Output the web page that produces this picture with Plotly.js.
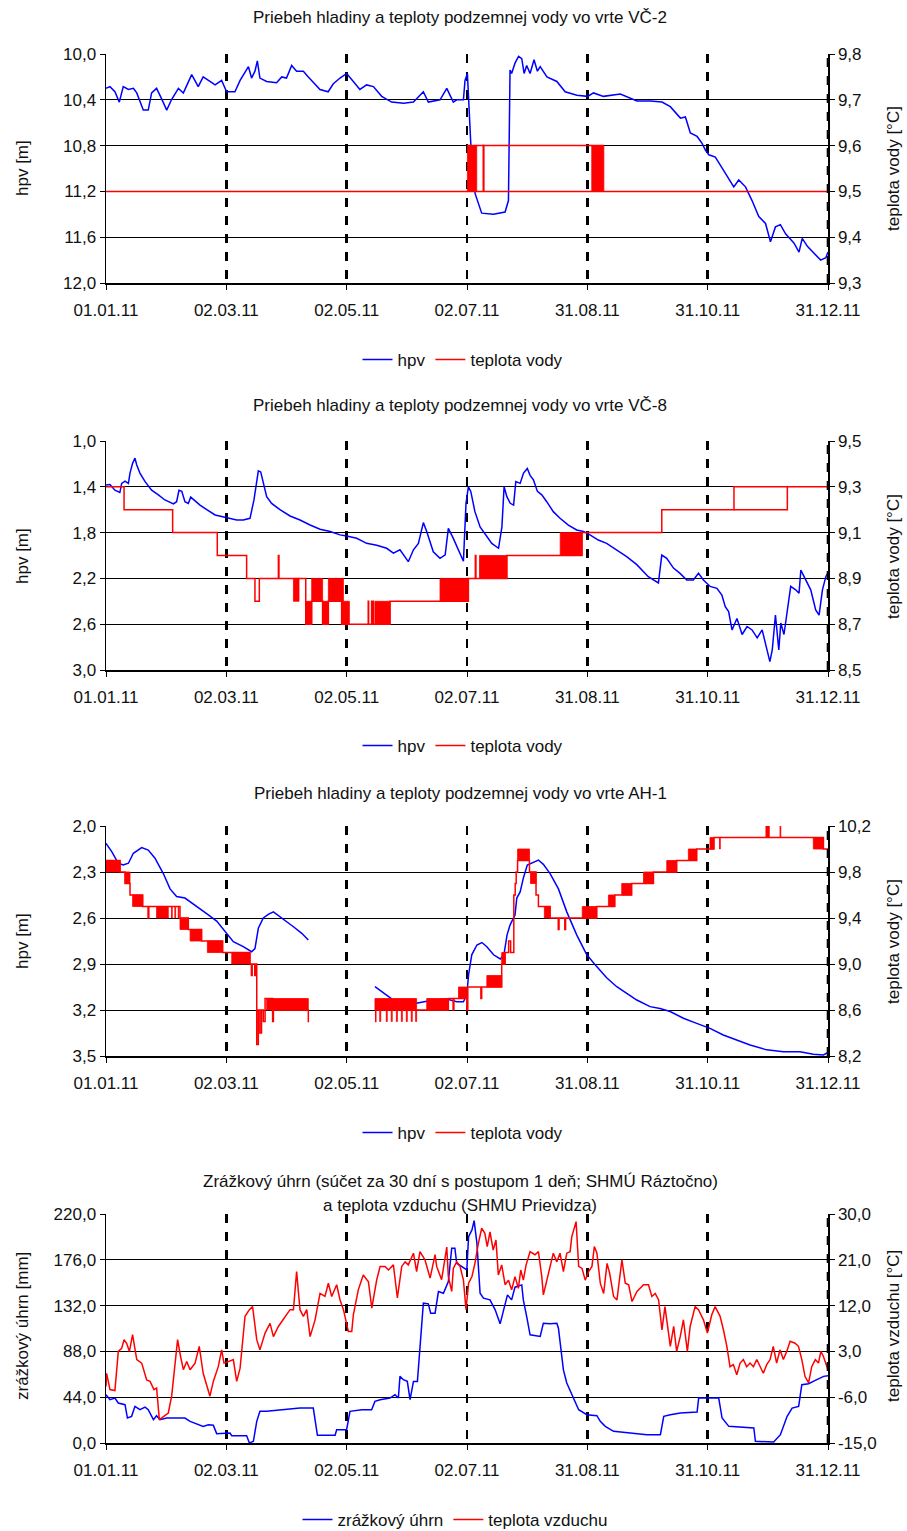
<!DOCTYPE html>
<html><head><meta charset="utf-8">
<script src="https://cdn.plot.ly/plotly-3.0.1.min.js"></script>
<style>html,body{margin:0;padding:0;background:#fff}</style>
</head><body><div id="chart" style="width:907px;height:1531px"></div>
<script>
// ---------- tick labels ----------
const dateLabels = ['01.01.11','02.03.11','02.05.11','02.07.11','31.08.11','31.10.11','31.12.11'];
const lastDay = 364;
const vc2LeftTicks = [10.0,10.4,10.8,11.2,11.6,12.0];
const vc2RightTicks = [9.3,9.4,9.5,9.6,9.7,9.8];
const vc8LeftTicks = [1.0,1.4,1.8,2.2,2.6,3.0];
const vc8RightTicks = [8.5,8.7,8.9,9.1,9.3,9.5];
const ah1LeftTicks = [2.0,2.3,2.6,2.9,3.2,3.5];
const ah1RightTicks = [8.2,8.6,9.0,9.4,9.8,10.2];
const rainTicks = [0,44,88,132,176,220];
const airTicks = [-15,-6,3,12,21,30];

// ---------- VČ-2 ----------
const vc2Hpv = [[0,10.30],[2,10.285],[4.5,10.33],[6.7,10.42],[8.7,10.285],[11.3,10.31],[13.8,10.30],[15.5,10.34],[18.8,10.49],[21.3,10.49],[23,10.34],[25.5,10.30],[28,10.39],[30.6,10.49],[33,10.40],[36.5,10.30],[39,10.34],[43.2,10.18],[46.5,10.285],[49,10.20],[52.4,10.24],[55,10.27],[58.3,10.23],[60.8,10.33],[65,10.33],[67.6,10.23],[71.8,10.11],[73.4,10.21],[75.1,10.15],[76.3,10.06],[77.6,10.21],[81,10.24],[86,10.25],[88.6,10.20],[91,10.21],[93.6,10.10],[96.1,10.15],[99.5,10.15],[102,10.20],[105.4,10.26],[107.9,10.31],[112,10.33],[114.6,10.26],[118,10.21],[121.3,10.17],[124.7,10.24],[128,10.31],[131.4,10.27],[134.8,10.285],[139,10.37],[144,10.42],[150,10.43],[155,10.42],[160,10.33],[162.5,10.42],[168.4,10.40],[171.8,10.30],[175.1,10.42],[176.8,10.40],[180.2,10.40],[181,10.23],[182.2,10.17],[182.8,10.37],[183.9,10.78],[186.1,11.22],[187.7,11.30],[189.4,11.39],[195.3,11.40],[201.2,11.38],[202.9,11.28],[203.7,10.14],[204.5,10.17],[206.2,10.08],[208,10.02],[209.6,10.04],[210.8,10.17],[212.1,10.10],[213.8,10.17],[215.8,10.05],[217.5,10.15],[218.9,10.11],[222.3,10.20],[227.3,10.24],[231.5,10.33],[237.4,10.36],[242.8,10.37],[245.8,10.34],[250.8,10.37],[259.3,10.35],[267.7,10.41],[274.5,10.41],[280.3,10.42],[284.5,10.46],[289.6,10.56],[292.1,10.55],[294.6,10.69],[298,10.72],[300.5,10.78],[302.2,10.84],[303.9,10.88],[307.2,10.90],[309.7,10.97],[313.1,11.06],[316.5,11.16],[319,11.10],[322.4,11.16],[325.7,11.28],[329.1,11.42],[332.5,11.48],[335,11.64],[337.5,11.51],[340,11.49],[342.6,11.57],[346.8,11.65],[349.4,11.73],[351,11.61],[353.6,11.68],[357,11.74],[360.3,11.80],[362.9,11.78],[364,11.73]];
const vc2Temp = [[0,9.5],[190.2,9.6],[190.5,9.5],[364,9.5]];
const vc2TempExtra = [[182.2,9.6],[251,9.6]];
const vc2TempBlocks = [[182.2,186.9,9.5,9.6],[244.9,251,9.5,9.6]];

// ---------- VČ-8 ----------
const vc8Hpv = [[0,1.384],[2,1.38],[4.5,1.43],[7,1.45],[7.9,1.37],[9.6,1.35],[11.3,1.37],[12.1,1.28],[13.4,1.195],[14.6,1.15],[15.5,1.21],[17.1,1.28],[19.7,1.355],[23,1.43],[26.4,1.47],[29.7,1.515],[34,1.55],[35.6,1.53],[36.8,1.43],[38.2,1.44],[39.8,1.53],[41.5,1.545],[42.7,1.49],[44.4,1.515],[47.4,1.56],[50.8,1.60],[55,1.646],[58.3,1.66],[62.5,1.675],[65.9,1.69],[69.2,1.69],[72.6,1.675],[74.6,1.515],[76,1.37],[76.8,1.26],[78,1.27],[79.3,1.355],[81,1.486],[83.5,1.545],[87.7,1.60],[92.8,1.655],[97.8,1.69],[102.9,1.734],[107.9,1.77],[113,1.79],[118,1.82],[121.3,1.83],[126.4,1.85],[131.4,1.894],[136.5,1.91],[141.5,1.937],[144.9,1.98],[148.2,1.95],[152.4,2.054],[155,1.95],[157.5,1.894],[160,1.713],[161.7,1.79],[165,1.967],[168.4,2.025],[171,1.995],[172.6,1.763],[175.1,1.85],[178.5,1.98],[180.2,2.05],[181.5,1.544],[182.7,1.40],[183.9,1.44],[186,1.617],[188.6,1.75],[192,1.836],[194.5,1.894],[197.9,1.937],[199.6,1.75],[200.7,1.40],[202.1,1.486],[203.8,1.544],[205.5,1.56],[206.6,1.355],[208.8,1.37],[210.5,1.28],[212.4,1.24],[213.8,1.30],[215.5,1.34],[217.5,1.44],[219.7,1.47],[222.2,1.53],[225.5,1.617],[228.9,1.675],[233.1,1.734],[237.3,1.777],[240.7,1.79],[244,1.82],[248.2,1.865],[252.4,1.894],[257.5,1.95],[262.5,2.01],[267.6,2.08],[273.4,2.185],[278.5,2.24],[280.2,1.996],[282.7,2.025],[286.1,2.11],[289.4,2.156],[292.8,2.214],[296.1,2.214],[298.7,2.156],[301.2,2.214],[304.6,2.27],[308,2.287],[310.5,2.345],[312.2,2.447],[313.9,2.49],[315.6,2.65],[318.1,2.55],[320.7,2.69],[323.2,2.62],[325.7,2.65],[328.3,2.72],[330.8,2.65],[333.3,2.825],[334.7,2.927],[335.9,2.825],[337.5,2.52],[339.2,2.825],[340.2,2.59],[341.8,2.69],[343.5,2.49],[345.2,2.27],[347.7,2.30],[349.4,2.33],[350.3,2.127],[352.8,2.214],[355.3,2.30],[357.8,2.476],[359.5,2.52],[361.2,2.30],[362.9,2.185],[364,2.15]];
const vc8Temp = [[0,9.3],[9.1,9.2],[33.6,9.1],[56.1,9.0],[70.9,8.9],[75.1,8.8],[77.3,8.9],[86.9,9.0],[87.2,8.9],[100.7,8.7],[103.7,8.8],[109.2,8.7],[112.1,8.8],[118.8,8.7],[132.2,8.8],[132.4,8.7],[133.9,8.8],[134.1,8.7],[134.7,8.8],[134.9,8.7],[143.2,8.8],[182.7,8.9],[186.2,9.0],[186.5,8.9],[202.1,9.0],[240,9.1],[280.2,9.2],[316.6,9.3],[364,9.3]];
const vc8TempExtra = [[316.6,9.2],[343.5,9.2],[343.5,9.3]];
const vc8TempBlocks = [[94.5,97.3,8.8,8.9],[100.7,103.7,8.7,8.8],[103.7,109.2,8.8,8.9],[109.2,112.1,8.7,8.8],[112.1,119.7,8.8,8.9],[118.8,122.7,8.7,8.8],[135.6,143.2,8.7,8.8],[168.4,182.7,8.8,8.9],[188.3,202.1,8.9,9.0],[229,240,9.0,9.1]];

// ---------- AH-1 ----------
const ah1Hpv = [[0,2.113],[2.9,2.167],[6.2,2.243],[8.7,2.254],[11.3,2.243],[13.8,2.178],[18,2.141],[21.3,2.157],[24.7,2.21],[28.9,2.31],[32.3,2.41],[35.6,2.46],[39.8,2.47],[43.2,2.50],[47.4,2.54],[51.6,2.58],[55.8,2.62],[60.8,2.70],[64.2,2.754],[69.2,2.787],[73.4,2.82],[75.1,2.80],[76.8,2.667],[79.3,2.60],[81.8,2.576],[84.4,2.56],[87.7,2.59],[91.1,2.624],[94.5,2.657],[98.7,2.70],[102,2.743],[118,null],[135.6,3.048],[139.8,3.09],[144.9,3.135],[148.2,3.167],[152.4,3.178],[155.8,3.157],[160,3.146],[165,3.135],[171.8,3.128],[176.8,3.146],[180.2,3.146],[181.9,3.10],[182.8,2.97],[184.4,2.84],[187,2.776],[189.5,2.76],[192,2.787],[195.4,2.84],[198.8,2.867],[200.6,2.84],[202.2,2.71],[203.7,2.646],[206.2,2.58],[207.1,2.47],[208.8,2.43],[210.4,2.34],[212.4,2.254],[214.6,2.243],[216.3,2.233],[218,2.222],[220.5,2.25],[223.9,2.31],[228.1,2.41],[232.3,2.56],[237.3,2.71],[242.4,2.84],[247.4,2.917],[252.4,2.99],[257.5,3.048],[262.5,3.09],[267.6,3.135],[274.3,3.178],[279.3,3.19],[284.4,3.21],[291.1,3.254],[297.8,3.287],[304.5,3.32],[311.2,3.363],[318,3.396],[324.7,3.428],[333.1,3.46],[341.5,3.472],[349.9,3.472],[356.6,3.489],[361.7,3.493],[364,3.476]];
const ah1Temp = [[0,9.9],[7.1,9.8],[9.6,9.7],[12.1,9.6],[18.5,9.5],[21.2,9.4],[21.6,9.5],[37.3,9.4],[41.5,9.3],[48.2,9.2],[58.8,9.1],[72.6,9.0],[73.3,8.9],[73.7,9.0],[75.0,8.9],[75.4,9.0],[76.0,8.3],[76.8,8.6],[77.6,8.4],[78.4,8.6],[79.3,8.5],[80.2,8.7],[84.0,8.5],[84.4,8.6],[102,8.5],[102.4,8.5],[118,null],[135.6,8.5],[136,8.6],[172.6,8.7],[175,8.6],[175.4,8.7],[181.9,8.6],[182.4,8.8],[189,8.7],[189.4,8.8],[199.5,9.0],[201.2,9.1],[203,9.2],[204,9.1],[205.6,9.6],[206.3,9.7],[206.8,9.8],[207.5,9.9],[213.5,9.8],[216.8,9.6],[218,9.5],[223.9,9.4],[228,9.3],[228.4,9.4],[231.3,9.3],[231.7,9.4],[247.4,9.5],[256.5,9.6],[265,9.7],[276,9.8],[287.7,9.9],[297.8,10.0],[306.5,10.1],[361.7,10.0],[364,10.0]];
const ah1TempBlocks = [[0,7.1,9.8,9.9],[9.6,12.1,9.7,9.8],[13.4,18.5,9.5,9.6],[25.5,31.4,9.4,9.5],[33.0,33.4,9.4,9.5],[34.7,35.1,9.4,9.5],[36.4,36.8,9.4,9.5],[37.3,41.5,9.3,9.4],[42.4,48.2,9.2,9.3],[51.1,58.8,9.1,9.2],[63.4,72.6,9.0,9.1],[81,102,8.6,8.7],
  [135.6,156.6,8.6,8.7],[138.0,138.5,8.5,8.6],[141.3,141.8,8.5,8.6],[143.8,144.3,8.5,8.6],[146.4,146.9,8.5,8.6],[148.9,149.4,8.5,8.6],[151.4,151.9,8.5,8.6],[153.9,154.4,8.5,8.6],[156.1,156.6,8.5,8.6],[161.7,172.6,8.6,8.7],[177.7,181.9,8.7,8.8],[192,199.5,8.8,8.9],[199.5,201.2,9.0,9.1],[207.5,213.5,9.9,10.0],[214,216.8,9.7,9.8],[221,223.9,9.4,9.5],[240.1,247.4,9.4,9.5],[253.3,256.5,9.5,9.6],[260,265,9.6,9.7],[271,276,9.7,9.8],[282.7,287.7,9.8,9.9],[293.6,297.8,9.9,10.0],[304.5,306.5,10.0,10.1],[309.3,309.7,10.0,10.1],[332.7,334.4,10.1,10.2],[339.8,340.2,10.1,10.2],[356.6,361.7,10.0,10.1]];

// ---------- precipitation & air temperature ----------
const rain = [[0,46.4],[2,41.6],[4.5,43.2],[6.2,38.4],[9.6,36.8],[10.8,24],[12.9,25.6],[14.6,35.2],[17.1,32],[19.7,34.5],[21.3,32],[23.9,22.4],[25.5,26.2],[27.2,22.4],[30.6,24],[35.6,24],[39.8,24],[42.4,20.8],[45.7,18.5],[49,16],[51.6,17.6],[54.1,17],[55.8,9],[60,9.6],[62.5,9.6],[63.4,7],[70.9,7],[72.3,0],[74.3,1.6],[76,20.8],[77.6,30.4],[81,30.4],[86,31.3],[89.4,32],[94.5,32.6],[97.8,33.6],[104.5,33.6],[106.6,7.4],[115.5,7.4],[116.3,12.8],[121.3,12.8],[123,30.4],[128.9,32],[133.9,32],[135.6,40],[138.2,41.6],[143.2,43.2],[145.7,46.4],[147.4,43.2],[148.2,64],[149.9,60.8],[151.9,59.2],[153.3,41.6],[155,59.2],[157,59.2],[158.3,92.7],[160,134.3],[162.5,133.7],[163.7,124.7],[165.9,124.7],[167.6,145.5],[170.1,143.9],[172.6,155.1],[174.3,187.1],[175.9,187.1],[176.8,172.7],[179.3,169.5],[181.9,166.3],[182.8,198.3],[184.5,204.7],[185.6,213.6],[187,191.9],[188.6,143.9],[190.3,139.1],[193.6,137.5],[196.2,127.9],[198.7,114.5],[200.3,126.3],[202.4,142.3],[204.5,137.5],[206.2,149.7],[209.6,151.9],[210.4,137.5],[212.1,121.5],[213.8,103.9],[218.9,102.3],[220.5,115.1],[223.9,114.5],[227.3,115.1],[228.1,110.3],[230.6,70.3],[232.3,57.6],[235.8,41.6],[238.3,32],[242.4,27.2],[247.5,26.2],[249.2,20.8],[251.7,16],[255.9,11.2],[264.3,9.6],[272.7,8],[279.5,8],[281.2,25.6],[284.5,27.2],[289.6,28.8],[298,29.7],[298.8,43.2],[308.9,43.2],[310.6,24],[314,16],[319.8,15.3],[326.6,14.4],[327.4,1.6],[336.6,1],[340,8],[343.4,25.6],[345.9,33.6],[349.2,35.2],[350.8,56],[354.2,56.9],[357.6,60.1],[361.8,64],[364,64.6]];
const airTemp = [[0,-3.9],[0.3,-1.3],[2,-4.5],[4.5,-4.7],[6.2,3.0],[7.9,3.6],[9.1,5.3],[10.4,4.6],[11.8,3.0],[13.4,6.3],[15.5,1.4],[18,0.7],[20.5,-2.6],[22.2,-2.9],[24.2,-4.5],[25.5,-4.2],[26.9,-10.4],[28.9,-9.8],[31.4,-9.1],[33.1,-5.8],[34.8,1.4],[36.1,5.3],[37.6,2.0],[39,-0.6],[40.7,1.0],[42.4,-0.6],[44.9,0.7],[47,4.0],[49,-1.3],[52.4,-5.8],[54.1,-2.9],[56.6,0.0],[58.3,3.3],[59.5,0.7],[61.7,1.0],[64.2,1.4],[65.9,-2.9],[67.6,-0.3],[70.1,9.9],[72.3,11.2],[73.9,11.8],[76,5.3],[77.6,3.3],[80.2,6.6],[82.7,8.5],[84.4,5.9],[86.9,7.9],[89.4,9.2],[92.8,11.2],[94.5,11.2],[96.1,18.7],[97.8,11.2],[99.5,9.9],[101.2,11.2],[102.9,5.9],[105.4,9.2],[107.9,14.4],[110.4,13.8],[112.1,16.4],[113.8,13.8],[116.3,16.1],[118,13.1],[119.7,11.2],[122.2,6.9],[123.9,6.9],[124.7,10.2],[127.2,15.1],[129.7,18.0],[132.3,16.7],[134,11.5],[136.5,17.1],[138.2,19.7],[140.7,19.7],[142.4,19.0],[144.9,20.0],[146.9,13.5],[149.1,19.7],[150.8,20.6],[152.4,20.0],[155,22.3],[156.6,18.7],[158.3,22.6],[160.8,21.0],[163.4,17.4],[165.9,22.0],[166.7,19.7],[169.2,17.1],[171.8,23.5],[172.6,17.7],[174.3,14.8],[175.1,19.3],[176.8,20.6],[178.5,19.7],[180.2,17.0],[181.5,11.2],[182.8,16.4],[184.5,17.7],[186,20.3],[187.7,24.2],[189.4,27.2],[191,26.2],[192.2,23.6],[193.6,26.5],[195.2,22.9],[196.6,24.9],[197.8,18.0],[199.5,20.0],[201.2,16.1],[202.9,17.0],[204.5,15.1],[206.2,17.7],[207.9,15.4],[209.1,19.0],[210.4,17.0],[211.8,20.0],[213.8,22.6],[216.3,22.0],[218,22.6],[219.7,17.7],[220.5,14.1],[222.2,17.0],[223.9,19.7],[225.5,22.3],[227.3,20.6],[228.9,22.3],[230.6,18.7],[232.3,22.3],[234,22.6],[234.8,25.5],[237,28.5],[238.3,19.7],[240,19.3],[241.6,17.0],[243.3,18.7],[245,19.7],[246.2,23.6],[247.5,22.3],[249.2,16.4],[250.9,14.4],[252.6,20.3],[253.9,18.4],[255.9,13.8],[257.6,13.1],[260.1,21.0],[261.8,16.4],[263.5,16.1],[265.2,12.8],[267.7,14.8],[271,16.1],[273.5,16.1],[275.2,13.8],[276.9,14.4],[278.6,13.1],[280.3,7.2],[281.8,11.8],[284.5,4.0],[286.2,7.9],[287.7,3.0],[289.5,5.9],[291.1,9.2],[293.1,3.0],[294.5,7.9],[297,11.8],[298.7,11.2],[301.2,9.2],[303.2,6.6],[305.4,10.2],[307.1,11.8],[309.6,9.9],[311.3,7.2],[313,4.0],[314.6,0.0],[316.3,0.4],[318,-1.6],[319.7,0.7],[321.3,1.4],[323,0.0],[324.7,0.7],[326.4,0.0],[328.1,1.4],[329.7,0.0],[331.4,-1.3],[333.1,0.4],[334.8,1.4],[336.4,4.0],[338.1,0.7],[339.8,3.3],[341.5,1.4],[343.2,3.0],[344.9,5.0],[347.4,4.6],[349.1,4.0],[350.8,1.4],[352.4,-1.9],[354.2,-3.2],[355.8,0.0],[357.6,1.4],[359.2,0.7],[360.4,3.0],[361.7,2.0],[364,-0.6]];

// ---------- helpers ----------
const BLUE = '#0000ff', RED = '#ff0000';
const FONT = 'Liberation Sans, Arial, sans-serif';
const px = p => p.map(d => d[0]);
const py = p => p.map(d => d[1]);
function rectPaths(blocks){
  const x = [], y = [];
  blocks.forEach(b => { x.push(b[0],b[1],b[1],b[0],b[0],null); y.push(b[2],b[2],b[3],b[3],b[2],null); });
  return {x, y};
}
const fmt = v => v.toFixed(1).replace('.', ',');
const dateTickVals = dateLabels.map((_, i) => i * lastDay / (dateLabels.length - 1));

function lineTrace(pairs, xa, ya, color, name, legend, shape, show){
  return {x: px(pairs), y: py(pairs), xaxis: xa, yaxis: ya, type: 'scatter', mode: 'lines',
    line: {color, width: color === BLUE ? 1.5 : 1.5, shape: shape || 'linear'},
    name, legend, showlegend: !!show, hoverinfo: 'skip', connectgaps: false};
}
function blockTrace(blocks, xa, ya){
  const r = rectPaths(blocks);
  return {x: r.x, y: r.y, xaxis: xa, yaxis: ya, type: 'scatter', mode: 'lines', fill: 'toself',
    fillcolor: RED, line: {color: RED, width: 0.8}, showlegend: false, hoverinfo: 'skip'};
}

const traces = [
  lineTrace(vc2Hpv, 'x', 'y', BLUE, 'hpv', 'legend', 'linear', true),
  lineTrace(vc2Temp, 'x', 'y2', RED, 'teplota vody', 'legend', 'hv', true),
  lineTrace(vc2TempExtra, 'x', 'y2', RED, '', 'legend', 'hv', false),
  blockTrace(vc2TempBlocks, 'x', 'y2'),

  lineTrace(vc8Hpv, 'x2', 'y3', BLUE, 'hpv', 'legend2', 'linear', true),
  lineTrace(vc8Temp, 'x2', 'y4', RED, 'teplota vody', 'legend2', 'hv', true),
  lineTrace(vc8TempExtra, 'x2', 'y4', RED, '', 'legend2', 'linear', false),
  blockTrace(vc8TempBlocks, 'x2', 'y4'),

  lineTrace(ah1Hpv, 'x3', 'y5', BLUE, 'hpv', 'legend3', 'linear', true),
  lineTrace(ah1Temp, 'x3', 'y6', RED, 'teplota vody', 'legend3', 'hv', true),
  blockTrace(ah1TempBlocks, 'x3', 'y6'),

  lineTrace(rain, 'x4', 'y7', BLUE, 'zrážkový úhrn', 'legend4', 'linear', true),
  lineTrace(airTemp, 'x4', 'y8', RED, 'teplota vzduchu', 'legend4', 'linear', true)
];

// ---------- layout ----------
const H = 1531, L = 106, R = 79, PW = 907 - L - R;
const yPx = v => (H - v) / H;           // pixel row -> paper fraction
const xPx = v => (v - L) / PW;          // pixel column -> paper fraction
const tickFont = {family: FONT, size: 17, color: '#111'};

function xAxis(anchor){
  return {anchor, range: [0, lastDay], tickmode: 'array', tickvals: dateTickVals, ticktext: dateLabels,
    showgrid: true, gridcolor: '#000', griddash: 'dash', gridwidth: 2.6,
    showline: true, linecolor: '#000', linewidth: 1.5, ticks: 'outside', ticklen: 5, tickcolor: '#000',
    tickfont: tickFont, zeroline: false, ticklabelstandoff: 6, fixedrange: true};
}
function yLeft(domain, ticks, reversed, anchor){
  const lo = ticks[0], hi = ticks[ticks.length - 1];
  return {domain, anchor, range: reversed ? [hi, lo] : [lo, hi], tickmode: 'array', tickvals: ticks,
    ticktext: ticks.map(fmt), showgrid: true, gridcolor: '#000', gridwidth: 1,
    showline: true, linecolor: '#000', linewidth: 1.5, ticks: 'outside', ticklen: 5, tickcolor: '#000',
    tickfont: tickFont, zeroline: false, fixedrange: true};
}
function yRight(over, ticks, anchor){
  return {overlaying: over, side: 'right', anchor, range: [ticks[0], ticks[ticks.length - 1]],
    tickmode: 'array', tickvals: ticks, ticktext: ticks.map(fmt), showgrid: false,
    showline: true, linecolor: '#000', linewidth: 1.5, ticks: 'outside', ticklen: 5, tickcolor: '#000',
    tickfont: tickFont, zeroline: false, fixedrange: true};
}

const d1 = [yPx(283), yPx(54)], d2 = [yPx(670), yPx(441)], d3 = [yPx(1056), yPx(826)], d4 = [yPx(1443), yPx(1214)];
const txt = {family: FONT, size: 17, color: '#111'};
function ann(text, x, y, angle){
  return {text, xref: 'paper', yref: 'paper', x: xPx(x), y: yPx(y), showarrow: false,
    xanchor: 'center', yanchor: 'middle', textangle: angle || 0, font: txt};
}
function leg(cx, cy){
  return {orientation: 'h', x: xPx(cx), y: yPx(cy), xanchor: 'center', yanchor: 'middle',
    font: txt, bgcolor: 'rgba(0,0,0,0)', itemwidth: 30, tracegroupgap: 0};
}
// dashed right border of every panel (the last date gridline)
function rightEdge(xa, ya){
  return {type: 'line', xref: xa, yref: ya + ' domain', x0: lastDay, x1: lastDay, y0: 0, y1: 1,
    line: {color: '#000', width: 2.6, dash: 'dash'}, layer: 'above'};
}

const layout = {
  width: 907, height: H, paper_bgcolor: '#fff', plot_bgcolor: '#fff',
  margin: {l: L, r: R, t: 0, b: 0, autoexpand: false},
  separators: ', ', font: {family: FONT, color: '#111'},
  xaxis: xAxis('y'), yaxis: yLeft(d1, vc2LeftTicks, true, 'x'), yaxis2: yRight('y', vc2RightTicks, 'x'),
  xaxis2: xAxis('y3'), yaxis3: yLeft(d2, vc8LeftTicks, true, 'x2'), yaxis4: yRight('y3', vc8RightTicks, 'x2'),
  xaxis3: xAxis('y5'), yaxis5: yLeft(d3, ah1LeftTicks, true, 'x3'), yaxis6: yRight('y5', ah1RightTicks, 'x3'),
  xaxis4: xAxis('y7'), yaxis7: yLeft(d4, rainTicks, false, 'x4'), yaxis8: yRight('y7', airTicks, 'x4'),
  legend: leg(463, 360), legend2: leg(463, 746), legend3: leg(463, 1133), legend4: leg(455, 1520),
  shapes: [rightEdge('x', 'y'), rightEdge('x2', 'y3'), rightEdge('x3', 'y5'), rightEdge('x4', 'y7')],
  annotations: [
    ann('Priebeh hladiny a teploty podzemnej vody vo vrte VČ-2', 460, 18),
    ann('Priebeh hladiny a teploty podzemnej vody vo vrte VČ-8', 460, 405),
    ann('Priebeh hladiny a teploty podzemnej vody vo vrte AH-1', 460, 793),
    ann('Zrážkový úhrn (súčet za 30 dní s postupom 1 deň; SHMÚ Ráztočno)', 460, 1181),
    ann('a teplota vzduchu (SHMU Prievidza)', 460, 1205),
    ann('hpv [m]', 22, 168, -90), ann('teplota vody [°C]', 893, 168, -90),
    ann('hpv [m]', 22, 556, -90), ann('teplota vody [°C]', 893, 556, -90),
    ann('hpv [m]', 22, 941, -90), ann('teplota vody [°C]', 893, 941, -90),
    ann('zrážkový úhrn [mm]', 22, 1326, -90), ann('teplota vzduchu [°C]', 893, 1326, -90)
  ]
};

Plotly.newPlot('chart', traces, layout, {staticPlot: true, displayModeBar: false});
</script></body></html>
